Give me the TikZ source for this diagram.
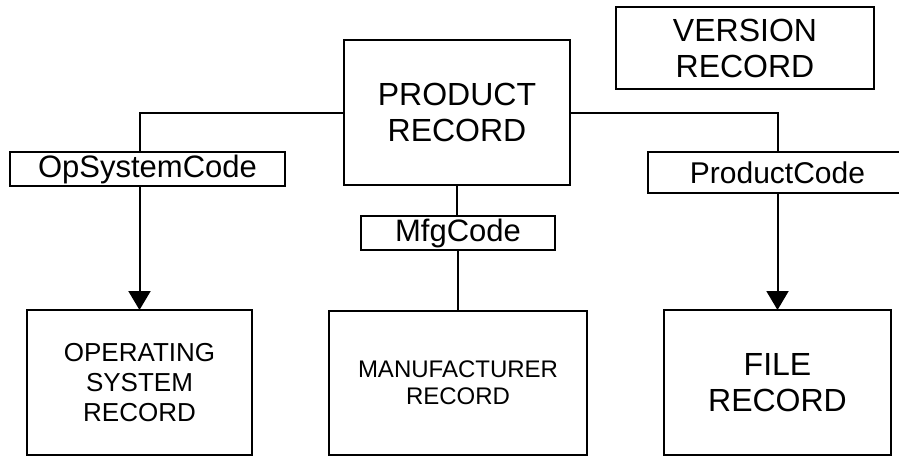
\documentclass[tikz,border=0pt]{standalone}
\usepackage{fontspec}
\setmainfont{Liberation Sans}
\usetikzlibrary{arrows.meta, positioning}
\tikzset{
    record/.style={draw, line width=1pt, inner sep=0pt, outer sep=0pt, align=center,
        font=\fontsize{16pt}{18pt}\selectfont},
    keybox/.style={draw, line width=1pt, inner sep=0pt, outer sep=0pt, minimum height=17pt,
        font=\fontsize{15.5pt}{17pt}\selectfont},
    link/.style={line width=1pt},
    fk/.style={line width=1pt, -{Triangle[width=11pt, length=9.5pt]}}
}

\begin{document}
\begin{tikzpicture}[x=0.5pt, y=-0.5pt]
    \useasboundingbox (0,0) rectangle (899,456);
    \node[record, minimum width=129pt, minimum height=41pt] (version) at (745,48) {VERSION\\RECORD};
    \node[record, minimum width=113pt, minimum height=72.5pt] (product) at (457,112.5) {PRODUCT\\RECORD};
    \node[keybox, minimum width=137.5pt] (opcode) at (147.5,169) {OpSystemCode};
    \node[keybox, minimum width=97pt] (mfgcode) at (458,233) {MfgCode};
    \node[keybox, minimum width=129.5pt, minimum height=20.5pt, font=\fontsize{15pt}{17pt}\selectfont] (prodcode) at (777.5,172.5) {ProductCode};
    \node[record, minimum width=112.5pt, minimum height=72.5pt, font=\fontsize{13pt}{15pt}\selectfont] (os) at (139.5,382.5) {OPERATING\\SYSTEM\\RECORD};
    \node[record, minimum width=129pt, minimum height=72pt, font=\fontsize{12pt}{13.5pt}\selectfont] (mfg) at (458,383) {MANUFACTURER\\RECORD};
    \node[record, minimum width=113.5pt, minimum height=72.5pt] (file) at (777.5,382.5) {FILE\\RECORD};
    \draw[link] (product.west) -| (os.north |- opcode.north);
    \draw[fk] (os.north |- opcode.south) -- (os.north);
    \draw[link] (product.east) -| (file.north |- prodcode.north);
    \draw[fk] (file.north |- prodcode.south) -- (file.north);
    \draw[link] (product.south) -- (product.south |- mfgcode.north);
    \draw[link] (mfgcode.south -| mfg.north) -- (mfg.north);
\end{tikzpicture}
\end{document}
